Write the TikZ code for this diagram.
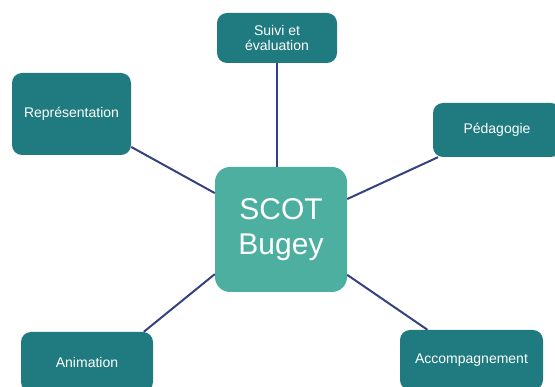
\documentclass[tikz,border=0pt]{standalone}
\usepackage{fontspec}
\setmainfont{Liberation Sans}
\usepackage{tikz}

\definecolor{darkteal}{RGB}{31,123,128}
\definecolor{lightteal}{RGB}{76,175,159}
\definecolor{linkblue}{RGB}{52,66,128}

\begin{document}
\begin{tikzpicture}[x=1pt,y=-1pt,
    every node/.style={text=white,align=center,inner sep=0pt},
    branch/.style={fill=darkteal,rounded corners=10pt,font=\fontsize{14}{15}\selectfont},
    hub/.style={fill=lightteal,rounded corners=15pt,font=\fontsize{30}{35}\selectfont,
      minimum width=132pt,minimum height=125pt},
    link/.style={draw=linkblue,line width=2pt}]
  \useasboundingbox (0,0) rectangle (555,387);

  \node[hub] (scot) at (281,229.5) {SCOT\\Bugey};

  \node[branch,minimum width=120pt,minimum height=50pt] (suivi) at (277,38) {Suivi et\\évaluation};
  \node[branch,minimum width=119pt,minimum height=82pt] (repr) at (71.5,114) {Représentation};
  \node[branch,minimum width=128pt,minimum height=54pt] (peda) at (497,130) {Pédagogie};
  \node[branch,minimum width=132pt,minimum height=60pt] (anim) at (87,362) {Animation};
  \node[branch,minimum width=143pt,minimum height=60pt] (accomp) at (471.5,360) {Accompagnement};

  \draw[link] (suivi) -- (suivi |- scot.north);
  \draw[link] (repr) -- (scot);
  \draw[link] (peda) -- (scot);
  \draw[link] (anim.28) -- (scot.214);
  \draw[link] (accomp) -- (scot);
\end{tikzpicture}
\end{document}
